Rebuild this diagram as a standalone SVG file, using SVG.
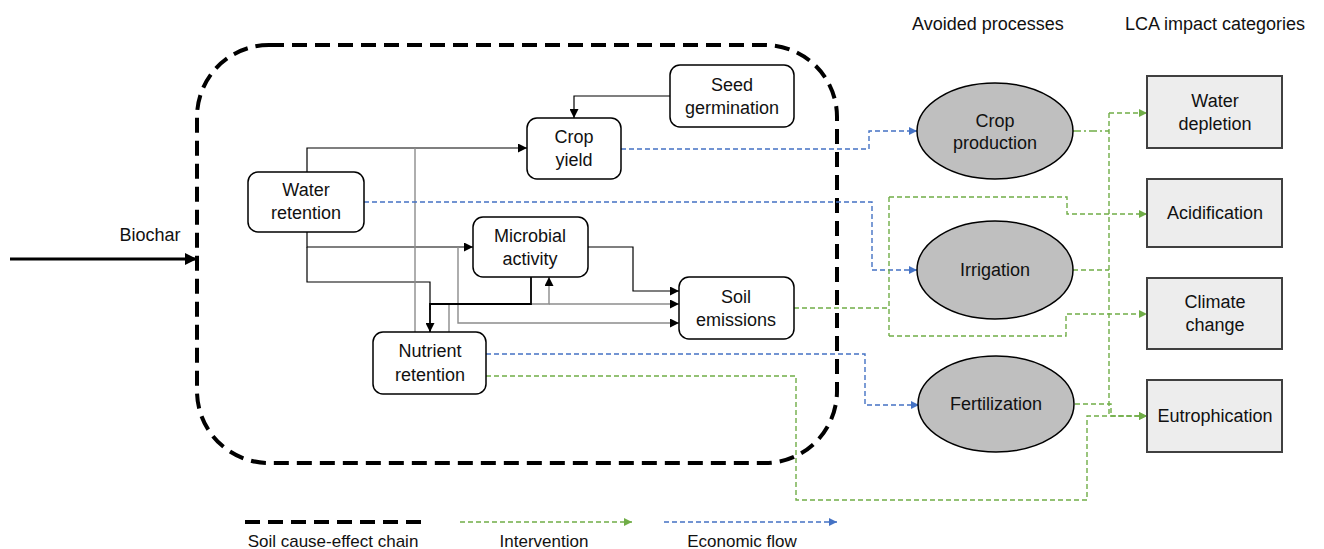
<svg xmlns="http://www.w3.org/2000/svg" width="1324" height="549" viewBox="0 0 1324 549">
<style>
text{font-family:"Liberation Sans",Arial,sans-serif;font-size:18px;fill:#111;text-anchor:middle}
.node{fill:#fff;stroke:#000;stroke-width:1.5}
.proc{fill:#bfbfbf;stroke:#000;stroke-width:1.5}
.cat{fill:#ededed;stroke:#404040;stroke-width:2}
.k{fill:none;stroke:#000;stroke-width:1.2}
.kb{fill:none;stroke:#000;stroke-width:1.8}
.g{fill:none;stroke:#8c8c8c;stroke-width:1.4}
.bl{fill:none;stroke:#4472c4;stroke-width:1.4;stroke-dasharray:5 3}
.gr{fill:none;stroke:#70ad47;stroke-width:1.4;stroke-dasharray:5 3}
.grdd{fill:none;stroke:#70ad47;stroke-width:1.4;stroke-dasharray:8 3 2 3}
.chain{fill:none;stroke:#000;stroke-width:4;stroke-dasharray:15 8}
</style>
<defs>
<marker id="ak" viewBox="0 0 10 10" refX="10" refY="5" markerWidth="10" markerHeight="9" markerUnits="userSpaceOnUse" orient="auto"><path d="M0,0L10,5L0,10z" fill="#000"/></marker>
<marker id="ag" viewBox="0 0 10 10" refX="10" refY="5" markerWidth="10" markerHeight="9" markerUnits="userSpaceOnUse" orient="auto"><path d="M0,0L10,5L0,10z" fill="#000"/></marker>
<marker id="ab" viewBox="0 0 10 10" refX="10" refY="5" markerWidth="10" markerHeight="8" markerUnits="userSpaceOnUse" orient="auto"><path d="M0,0L10,5L0,10z" fill="#4472c4"/></marker>
<marker id="agr" viewBox="0 0 10 10" refX="10" refY="5" markerWidth="10" markerHeight="8" markerUnits="userSpaceOnUse" orient="auto"><path d="M0,0L10,5L0,10z" fill="#70ad47"/></marker>
<marker id="abig" viewBox="0 0 10 10" refX="10" refY="5" markerWidth="14" markerHeight="12" markerUnits="userSpaceOnUse" orient="auto"><path d="M0,0L10,5L0,10z" fill="#000"/></marker>
</defs>

<text x="988" y="30">Avoided processes</text>
<text x="1215" y="30">LCA impact categories</text>

<g id="boundary">
<rect class="chain" x="197" y="45" width="640" height="418" rx="72" ry="72"/>
</g>

<g id="biochar">
<line x1="10" y1="259" x2="197" y2="259" stroke="#000" stroke-width="3" marker-end="url(#abig)"/>
<text x="150" y="241">Biochar</text>
</g>

<g id="connectors">
<path class="k" d="M670,96H574V118" marker-end="url(#ak)"/>
<path class="k" d="M307,172V148H527" marker-end="url(#ak)"/>
<path class="k" d="M307,232V247H473" marker-end="url(#ak)"/>
<path class="k" d="M307,247V282H430V310"/>
<path class="k" d="M588,247H633V291H679" marker-end="url(#ak)"/>
<path class="g" d="M415,332V148"/>
<path class="g" d="M449,332V304H549V277" marker-end="url(#ag)"/>
<path class="g" d="M549,304H679" marker-end="url(#ag)"/>
<path class="g" d="M458,247V323H679" marker-end="url(#ag)"/>
<path class="kb" d="M531,277V304H430V332" marker-end="url(#ak)"/>

<path class="bl" d="M621,149H869V131H917" marker-end="url(#ab)"/>
<path class="bl" d="M364,202H872V270H917" marker-end="url(#ab)"/>
<path class="bl" d="M486,354H865V405H919" marker-end="url(#ab)"/>

<path class="gr" d="M794,308H889"/>
<path class="gr" d="M889,197V336"/>
<path class="gr" d="M889,197H1067V214H1147" marker-end="url(#agr)"/>
<path class="gr" d="M889,336H1066V314H1147" marker-end="url(#agr)"/>
<path class="gr" d="M486,376H796V500H1087V416H1147" marker-end="url(#agr)"/>
<path class="grdd" d="M1073,131H1109"/>
<path class="gr" d="M1109,113V416"/>
<path class="gr" d="M1109,113H1147" marker-end="url(#agr)"/>
<path class="gr" d="M1073,270H1109"/>
<path class="gr" d="M1075,404H1111V416H1147" marker-end="url(#agr)"/>
</g>

<g id="seed-germination">
<rect class="node" x="670" y="65" width="124" height="62" rx="10"/>
<text x="732" y="91">Seed</text>
<text x="732" y="114">germination</text>
</g>
<g id="crop-yield">
<rect class="node" x="527" y="118" width="94" height="61" rx="10"/>
<text x="574" y="143">Crop</text>
<text x="574" y="166">yield</text>
</g>
<g id="water-retention">
<rect class="node" x="248" y="172" width="116" height="60" rx="10"/>
<text x="306" y="196">Water</text>
<text x="306" y="219">retention</text>
</g>
<g id="microbial-activity">
<rect class="node" x="473" y="217" width="115" height="60" rx="10"/>
<text x="530" y="242">Microbial</text>
<text x="530" y="265">activity</text>
</g>
<g id="soil-emissions">
<rect class="node" x="679" y="277" width="115" height="62" rx="10"/>
<text x="736" y="303">Soil</text>
<text x="736" y="326">emissions</text>
</g>
<g id="nutrient-retention">
<rect class="node" x="373" y="332" width="113" height="62" rx="10"/>
<text x="430" y="357">Nutrient</text>
<text x="430" y="381">retention</text>
</g>

<g id="crop-production">
<ellipse class="proc" cx="995" cy="131" rx="78" ry="48"/>
<text x="995" y="127">Crop</text>
<text x="995" y="149">production</text>
</g>
<g id="irrigation">
<ellipse class="proc" cx="995" cy="270" rx="78" ry="49"/>
<text x="995" y="276">Irrigation</text>
</g>
<g id="fertilization">
<ellipse class="proc" cx="996" cy="404" rx="78" ry="48"/>
<text x="996" y="410">Fertilization</text>
</g>

<g id="water-depletion">
<rect class="cat" x="1147" y="76" width="135" height="72"/>
<text x="1215" y="107">Water</text>
<text x="1215" y="130">depletion</text>
</g>
<g id="acidification">
<rect class="cat" x="1147" y="179" width="135" height="68"/>
<text x="1215" y="219">Acidification</text>
</g>
<g id="climate-change">
<rect class="cat" x="1147" y="278" width="135" height="71"/>
<text x="1215" y="308">Climate</text>
<text x="1215" y="331">change</text>
</g>
<g id="eutrophication">
<rect class="cat" x="1147" y="380" width="135" height="72"/>
<text x="1215" y="422">Eutrophication</text>
</g>

<g id="legend">
<line class="chain" x1="245" y1="522" x2="421" y2="522"/>
<text x="333" y="547" style="font-size:17px">Soil cause-effect chain</text>
<line class="gr" x1="460" y1="522" x2="632" y2="522" marker-end="url(#agr)"/>
<text x="544" y="547" style="font-size:17px">Intervention</text>
<line class="bl" x1="664" y1="522" x2="837" y2="522" marker-end="url(#ab)"/>
<text x="742" y="547" style="font-size:17px">Economic flow</text>
</g>
</svg>
